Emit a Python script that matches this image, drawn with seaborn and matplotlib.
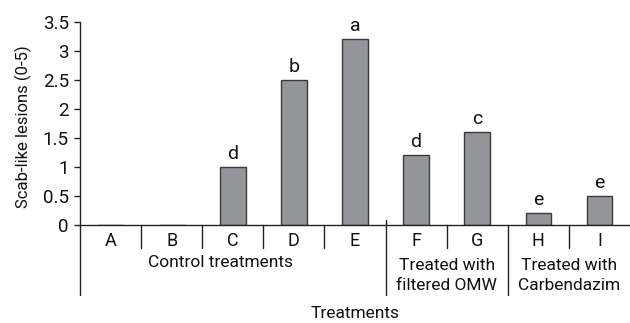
import matplotlib
matplotlib.use("Agg")
import matplotlib.pyplot as plt
import matplotlib.transforms as mtransforms
import pandas as pd
import seaborn as sns

# data
categories = ["A", "B", "C", "D", "E", "F", "G", "H", "I"]
lesions = [0, 0, 1.0, 2.5, 3.2, 1.2, 1.6, 0.2, 0.5]
letters = ["", "", "d", "b", "a", "d", "c", "e", "e"]
group_names = ["Control treatments", "Treated with\nfiltered OMW", "Treated with\nCarbendazim"]
group_spans = [(0, 4), (5, 6), (7, 8)]

sns.set_style("white")
plt.rcParams["font.family"] = ["Roboto", "DejaVu Sans"]
plt.rcParams["text.color"] = "#111111"
plt.rcParams["axes.labelcolor"] = "#111111"
plt.rcParams["ytick.labelcolor"] = "#111111"
plt.rcParams["xtick.labelcolor"] = "#111111"

df = pd.DataFrame({"Treatment": categories, "Lesions": lesions})

fig = plt.figure(figsize=(6.3, 3.23), dpi=100)
ax = fig.add_axes([0.127, 0.3034, 0.873, 0.6285])

sns.barplot(data=df, x="Treatment", y="Lesions", color="#939598",
            edgecolor="#3a3a3a", linewidth=1.0, width=0.42, saturation=1, ax=ax)

ax.set_xlim(-0.5, 8.5)
ax.set_ylim(0, 3.5)
ax.set_yticks([0, 0.5, 1, 1.5, 2, 2.5, 3, 3.5])
ax.set_yticklabels(["0", "0.5", "1", "1.5", "2", "2.5", "3", "3.5"], fontsize=13.5)
ax.tick_params(axis="y", length=4, width=1, color="#222222", pad=4, direction="out", left=True)
ax.tick_params(axis="x", length=0, pad=5, labelsize=13)

ax.set_xlabel("")
ax.set_ylabel("Scab-like lesions (0-5)", fontsize=12)
ax.yaxis.set_label_coords(-0.088, 0.483)

for s in ["top", "right"]:
    ax.spines[s].set_visible(False)
for s in ["left", "bottom"]:
    ax.spines[s].set_color("#222222")
    ax.spines[s].set_linewidth(1.0)

# significance letters
for i, (v, lab) in enumerate(zip(lesions, letters)):
    if lab:
        ax.text(i, v + 0.07, lab, ha="center", va="bottom", fontsize=14)

# dividers below the axis
trans = mtransforms.blended_transform_factory(ax.transData, ax.transAxes)
bounds = [g[1] + 0.5 for g in group_spans[:-1]]
for k in range(len(categories) - 1):
    xb = k + 0.5
    if xb in bounds:
        top = 0.025 if xb == bounds[0] else 0
        ax.plot([xb, xb], [top, -0.345], color="#222222", lw=1.0,
                transform=trans, clip_on=False)
    else:
        ax.plot([xb, xb], [0, -0.113], color="#222222", lw=1.0,
                transform=trans, clip_on=False)
ax.plot([-0.5, -0.5], [0, -0.345], color="#222222", lw=1.0,
        transform=trans, clip_on=False)

# group labels
for name, (a, b) in zip(group_names, group_spans):
    xc = (a + b) / 2
    if "\n" not in name:
        ax.text(xc - 0.2, -0.187, name, ha="center", va="center",
                fontsize=12.5, transform=trans)
    else:
        ax.text(xc, -0.249, name, ha="center", va="center", fontsize=12.5,
                linespacing=1.45, transform=trans)

ax.text(0.5, -0.436, "Treatments", ha="center", va="center",
        fontsize=12.5, transform=ax.transAxes)

fig.savefig("out.png", dpi=100)
